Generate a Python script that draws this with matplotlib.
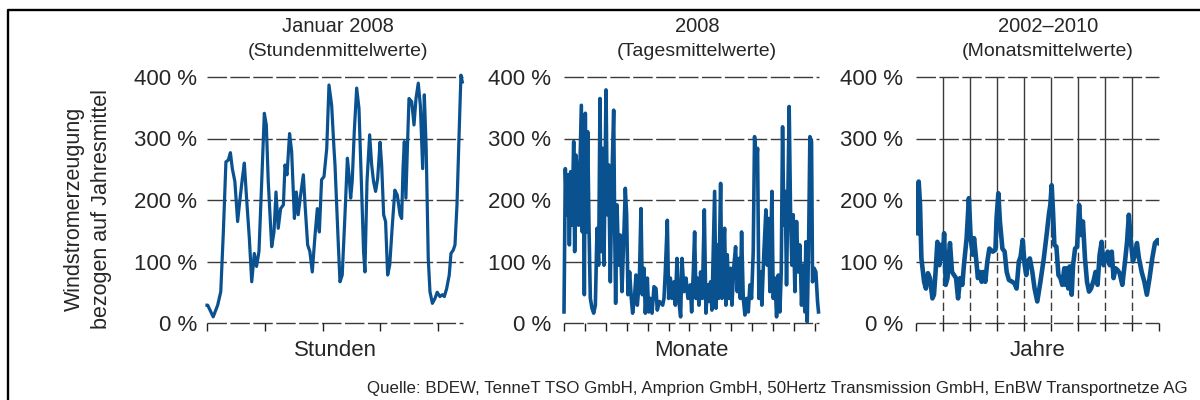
import matplotlib
matplotlib.use("Agg")
import matplotlib.pyplot as plt
from matplotlib.lines import Line2D

plt.rcParams['font.family'] = ['Liberation Sans', 'DejaVu Sans']

# Januar 2008, Stundenmittelwerte (hour of month, % of annual mean)
hours = [0, 2, 18, 31, 40, 47.5, 55, 62, 68, 73.6, 81, 89, 95, 102.7, 108.5, 115, 123, 130,
         137.5, 144, 151, 159, 166.6, 172.4, 178, 188, 194.7, 200.5, 207, 214, 222, 226.7,
         232.5, 240, 246, 254, 259.6, 265, 272, 280, 285, 292.5, 299, 306, 314, 320.6, 326.5,
         333, 340, 348, 354.5, 362.3, 369, 372, 381.7, 386.5, 393, 401, 408, 412.7, 417.5, 422,
         428, 435, 441.7, 449.5, 455, 459, 465, 472.7, 478.6, 484, 490, 496, 503, 507.6, 513.4,
         519, 525, 531, 538.6, 546, 553, 561, 565.7, 569.6, 573.5, 578, 583, 587, 594.8, 601.6,
         607.4, 614, 620, 626.8, 631.6, 637, 643, 648, 655, 662.6, 669, 677, 684, 689.7, 696.5,
         704, 709, 716, 720.7, 726.5, 732, 738, 742]
hourly = [29, 29, 10, 29, 51, 148, 262, 265, 277, 251, 230, 165, 197, 235, 260, 203, 138, 67,
          113, 92, 116, 230, 341, 322, 230, 124, 148, 213, 154, 186, 192, 257,
          241, 308, 279, 170, 213, 176, 208, 241, 192, 127, 116, 83, 143, 186, 148,
          233, 238, 284, 387, 354, 284, 257, 127, 67, 78, 176, 268, 241, 203, 230,
          311, 382, 349, 214, 116, 83, 230, 306, 257, 230, 214, 235, 294, 257, 176,
          165, 78, 94, 159, 216, 208, 176, 170, 251, 295, 203, 295, 365, 360, 322,
          365, 390, 354, 251, 371, 284, 105, 51, 32, 40, 50, 43, 46, 43, 56,
          78, 113, 119, 127, 192, 295, 403, 392]

# 2008, Tagesmittelwerte (day of year)
days = [0, 1.9, 3.8, 5.7, 7.7, 9.6, 11.5, 13.9, 15.3, 17.2, 19.1, 21, 23, 24.9, 26.3, 27.7,
        29.2, 30.6, 32, 34, 35.9, 37.8, 40.2, 42.6, 45, 47.4, 49.7, 51.7, 53.6, 55.5, 57.4,
        60.3, 62.2, 64.1, 66.5, 68.9, 71.3, 72.7, 74.1, 76.1, 78.4, 80.8, 83.2, 85.6, 88,
        89.9, 91.8, 94.2, 96.6, 98.5, 101.4, 103.3, 105.2, 108.1, 110.5, 112.4, 114.8, 116.7,
        119.6, 121.5, 123.9, 126.3, 129.2, 132, 133.9, 136.8, 139.7, 141.6, 143.5, 145.4,
        148.3, 150.2, 152.6, 155, 157.9, 159.8, 162.2, 164.5, 167.4, 169.3, 172.2, 175.1,
        177.9, 181.3, 183.2, 185.6, 187.5, 189.4, 191.3, 193.7, 196.1, 198.5, 201.4, 203.7,
        206.1, 208.5, 210.4, 212.3, 214.3, 216.2, 218.1, 220, 221.9, 224.8, 226.7, 228.6,
        230.5, 232.4, 234.3, 236.7, 239.1, 241, 243.9, 246.3, 248.7, 251.1, 253, 254.9,
        257.3, 259.7, 262.1, 264.5, 266.8, 269.2, 271.6, 273.5, 275.9, 277.8, 279.7, 282.1,
        284, 286.9, 289.8, 291.7, 293.6, 295.5, 298.4, 300.3, 302.7, 305.1, 307.5, 309.9,
        311.8, 313.7, 315.6, 317.5, 319.4, 321.3, 323.2, 325.2, 327.1, 329, 331.4, 333.8,
        336.2, 338.5, 340.9, 343.3, 345.7, 347.1, 349.1, 351, 352.9, 355.3, 356.7, 359.1,
        361.5, 363.9, 365.3]
daily = [18, 251, 176, 241, 127, 246, 159, 295, 116, 273, 241, 159, 257, 354, 148, 322,
         46, 341, 148, 311, 154, 40, 24, 16, 29, 154, 94, 365, 116, 284, 94,
         379, 176, 257, 67, 241, 346, 159, 32, 192, 94, 143, 51, 132, 219,
         176, 46, 83, 40, 16, 46, 78, 29, 67, 186, 46, 89, 16,
         73, 18, 40, 16, 59, 56, 21, 35, 32, 29, 40, 83,
         167, 40, 73, 40, 67, 29, 105, 40, 10, 105, 51, 73,
         40, 62, 18, 83, 148, 40, 73, 29, 83, 40, 184, 16,
         62, 35, 67, 21, 121, 214, 24, 127, 40, 227, 40, 116,
         154, 29, 111, 40, 89, 29, 94, 124, 51, 105, 40, 148,
         40, 13, 40, 18, 62, 40, 116, 303, 257, 284, 40, 83,
         29, 116, 184, 94, 170, 51, 214, 40, 73, 10, 78, 18,
         83, 319, 159, 214, 62, 208, 352, 176, 94, 176, 51, 165,
         83, 127, 29, 94, 18, 132, 2, 121, 303, 295, 67, 89,
         83, 35, 18]

# 2002-2010, Monatsmittelwerte (months since Jan 2002)
months = [0.3, 1.2, 1.8, 2.4, 3.6, 4.4, 5.3, 6.2, 7.3, 8, 8.7, 9.5, 10.4, 11, 11.9, 12.5,
          13.2, 14, 14.5, 15.1, 16, 16.9, 17.8, 18.7, 19.6, 20.6, 21.3, 22.5, 23.5, 24.3,
          25.2, 25.8, 26.7, 27.5, 28.4, 29.2, 29.9, 30.8, 31.7, 32.6, 34.1, 35.3, 35.8, 36.6,
          37.3, 38.4, 39.4, 40.3, 41.3, 42.8, 43.8, 44.7, 45.7, 46.5, 47.4, 48.3, 49, 49.7,
          50.6, 51.7, 52.7, 53.9, 55.3, 56.8, 58.2, 59.1, 59.7, 60.3, 60.9, 61.5, 62.4, 63.3,
          64.2, 65, 65.9, 66.5, 67.1, 67.7, 68.3, 69.2, 69.8, 70.7, 71.6, 72.5, 73.3, 74.2,
          75.1, 76, 76.9, 77.8, 79, 79.8, 80.7, 81.6, 82.5, 83.4, 84.3, 85.2, 86.1, 87, 87.8,
          88.7, 89.6, 90.5, 91.7, 92.9, 93.8, 94.6, 95.5, 96.4, 97.3, 98.2, 99.1, 100.3,
          101.5, 102.6, 103.8, 105, 106.2, 107.4, 108]
monthly = [146, 230, 192, 105, 67, 56, 81, 73, 40, 46, 83, 132, 94, 127, 105, 146,
           62, 73, 105, 130, 83, 78, 73, 40, 73, 62, 94, 138, 203, 138,
           111, 138, 105, 73, 83, 67, 83, 67, 100, 121, 116, 119, 170, 211,
           165, 121, 116, 83, 70, 67, 64, 56, 100, 108, 135, 94, 78, 100,
           105, 83, 56, 35, 67, 105, 148, 178, 192, 224, 181, 127, 124, 78,
           73, 62, 89, 62, 89, 56, 92, 46, 94, 121, 124, 192, 143, 165,
           105, 67, 51, 56, 70, 83, 62, 111, 132, 94, 105, 116, 94, 116, 73,
           89, 86, 81, 62, 100, 132, 176, 132, 100, 111, 130, 105, 83,
           67, 46, 73, 105, 130, 135, 130]

y_ticks = [0, 100, 200, 300, 400]
y_labels = ['0 %', '100 %', '200 %', '300 %', '400 %']
hour_ticks = [0, 168, 336, 504, 672]
day_ticks = [0, 30, 60, 90, 120, 150, 180, 210, 240, 270, 300, 330, 360]
year_ticks = [0, 12, 24, 36, 48, 60, 72, 84, 96, 108]

blue = '#0a5190'
grid_c = '#3a3a3a'
text_c = '#262626'
W, H = 1200, 400

fig = plt.figure(figsize=(12, 4), dpi=100)


def setup(ax, xmax, xticks, xlabel, pad):
    ax.set_xlim(0, xmax)
    ax.set_ylim(0, 400)
    for s in ax.spines.values():
        s.set_visible(False)
    ax.set_yticks(y_ticks)
    ax.set_yticklabels(y_labels)
    ax.set_xticks(xticks)
    ax.set_xticklabels([])
    ax.tick_params(axis='y', length=0, pad=pad, labelsize=16, labelcolor=text_c)
    ax.tick_params(axis='x', direction='out', length=6, width=1.0, color='#222222')
    for v in y_ticks:
        ax.axhline(v, color=grid_c, lw=1.0, ls=(0, (14, 2.5)), zorder=1, clip_on=False)
    ax.set_xlabel(xlabel, fontsize=16, color=text_c, labelpad=3)


ax1 = fig.add_axes([207 / W, (H - 323) / H, 256 / W, 246 / H])
setup(ax1, 744, hour_ticks, 'Stunden', 7)
ax1.plot(hours, hourly, color=blue, lw=2.3, zorder=3, clip_on=False)

ax2 = fig.add_axes([564 / W, (H - 323) / H, 255 / W, 246 / H])
setup(ax2, 366, day_ticks, 'Monate', 9)
ax2.plot(days, daily, color=blue, lw=2.6, zorder=3, clip_on=False)

ax3 = fig.add_axes([916 / W, (H - 323) / H, 243 / W, 246 / H])
setup(ax3, 108, year_ticks, 'Jahre', 9.5)
ax3.vlines(year_ticks[1:-1], 140, 400, color=grid_c, lw=1.0, zorder=1)
ax3.vlines(year_ticks[1:-1], 0, 140, color=grid_c, lw=1.0, ls=(0, (6, 3)), zorder=1)
ax3.plot(months, monthly, color=blue, lw=3.3, zorder=3, solid_joinstyle='round')

titles = [(338, 'Januar 2008', '(Stundenmittelwerte)'),
          (697, '2008', '(Tagesmittelwerte)'),
          (1048, '2002\u20132010', '(Monatsmittelwerte)')]
for cx, t1, t2 in titles:
    fig.text(cx / W, 1 - 27 / H, t1, ha='center', va='center', fontsize=14.5, color=text_c)
    fig.text(cx / W, 1 - 52 / H, t2, ha='center', va='center', fontsize=14, color=text_c)

fig.text(88 / W, 1 - 209 / H, 'Windstromerzeugung\nbezogen auf Jahresmittel',
         rotation=90, ha='center', va='center', fontsize=15.5, color=text_c,
         linespacing=1.35, multialignment='center')

fig.text(1188 / W, 1 - 388 / H,
         'Quelle: BDEW, TenneT TSO GmbH, Amprion GmbH, 50Hertz Transmission GmbH, EnBW Transportnetze AG',
         ha='right', va='center', fontsize=12.2, color=text_c)

# frame around the figure (left and top edge visible)
fig.add_artist(Line2D([7.5 / W, 7.5 / W, 1.0], [0.0, 1 - 9.5 / H, 1 - 9.5 / H],
                      transform=fig.transFigure, color='black', lw=1.7))

fig.savefig('out.png', dpi=100)
